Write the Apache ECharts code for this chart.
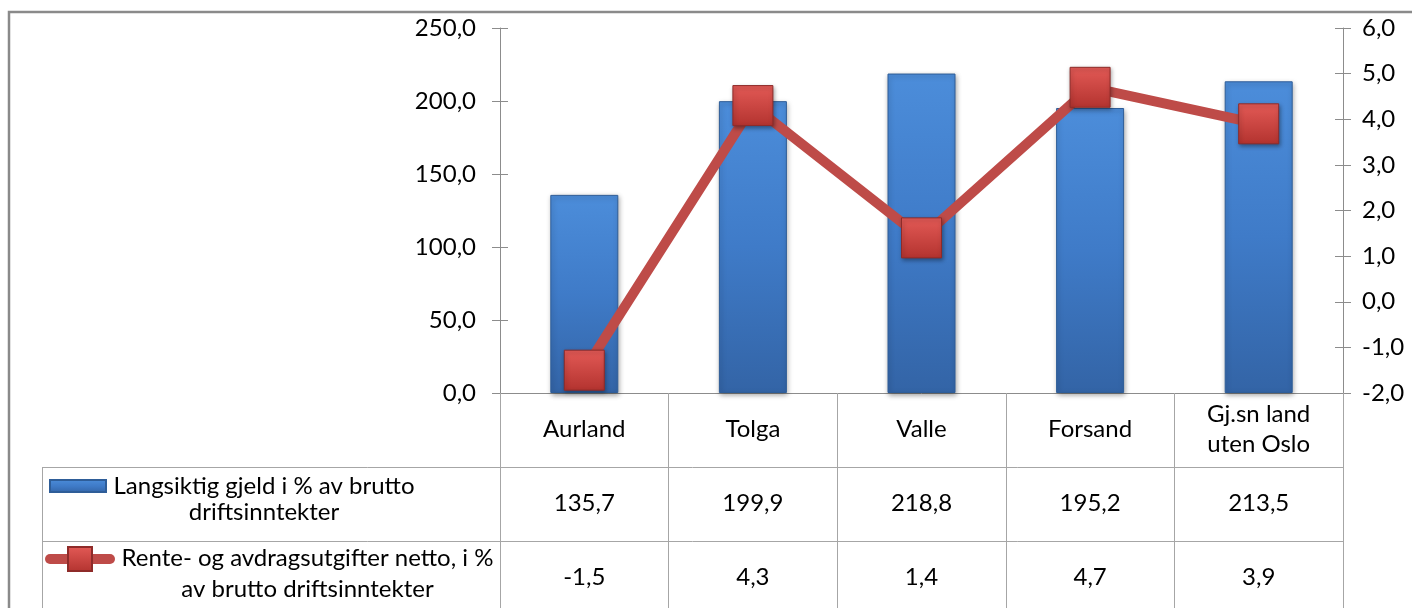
<!DOCTYPE html>
<html><head><meta charset="utf-8">
<script src="https://cdn.jsdelivr.net/npm/echarts@6/dist/echarts.min.js"></script>
<style>html,body{margin:0;padding:0;background:#fff}#c{width:1412px;height:608px}</style>
</head><body><div id="c"></div>
<script>
const categories = ['Aurland', 'Tolga', 'Valle', 'Forsand', 'Gj.sn land\nuten Oslo'];
const debtValues = [135.7, 199.9, 218.8, 195.2, 213.5];
const interestValues = [-1.5, 4.3, 1.4, 4.7, 3.9];
const debtName = 'Langsiktig gjeld i % av brutto driftsinntekter';
const interestName = 'Rente- og avdragsutgifter netto, i % av brutto driftsinntekter';
const debtLegendLines = ['Langsiktig gjeld i % av brutto', 'driftsinntekter'];
const interestLegendLines = ['Rente- og avdragsutgifter netto, i %', 'av brutto driftsinntekter'];
const leftAxis = { min: 0, max: 250, interval: 50 };
const rightAxis = { min: -2, max: 6, interval: 1 };

const FONT = 'Lato';
const FS = 24;
const fmt = v => Number(v).toFixed(1).replace('.', ',');
const grey = '#8c8c8c';
const tableGrey = '#a6a6a6';

const chart = echarts.init(document.getElementById('c'), null, { renderer: 'canvas' });

const labelBase = { fontFamily: FONT, fontSize: FS, color: '#000' };

const option = {
  backgroundColor: '#fff',
  animation: false,
  textStyle: { fontFamily: FONT },
  grid: { left: 500, right: 69, top: 28, bottom: 215, containLabel: false },
  xAxis: [
    {
      type: 'category', data: categories, position: 'bottom', offset: 0,
      axisLine: { onZero: false, lineStyle: { color: grey, width: 1 } },
      axisTick: { show: true, interval: 0, length: 230, lineStyle: { color: tableGrey } },
      axisLabel: Object.assign({ interval: 0, margin: 36, verticalAlign: 'middle', lineHeight: 30 }, labelBase)
    },
    {
      type: 'category', data: debtValues.map(fmt), position: 'bottom', offset: 0,
      axisLine: { show: false, onZero: false }, axisTick: { show: false },
      axisLabel: Object.assign({ interval: 0, margin: 110, verticalAlign: 'middle' }, labelBase)
    },
    {
      type: 'category', data: interestValues.map(fmt), position: 'bottom', offset: 0,
      axisLine: { show: false, onZero: false }, axisTick: { show: false },
      axisLabel: Object.assign({ interval: 0, margin: 184, verticalAlign: 'middle' }, labelBase)
    }
  ],
  yAxis: [
    {
      type: 'value', position: 'left', min: leftAxis.min, max: leftAxis.max, interval: leftAxis.interval,
      axisLine: { show: true, lineStyle: { color: grey } },
      axisTick: { show: true, length: 8, lineStyle: { color: grey } },
      splitLine: { show: false },
      axisLabel: Object.assign({ margin: 24, formatter: fmt }, labelBase)
    },
    {
      type: 'value', position: 'right', min: rightAxis.min, max: rightAxis.max, interval: rightAxis.interval,
      axisLine: { show: true, lineStyle: { color: grey } },
      axisTick: { show: true, length: 8, lineStyle: { color: grey } },
      splitLine: { show: false },
      axisLabel: Object.assign({ margin: 19, formatter: fmt }, labelBase)
    },
    {
      type: 'value', position: 'left', min: leftAxis.min, max: leftAxis.max, interval: leftAxis.interval,
      axisLine: { show: false }, axisLabel: { show: false }, splitLine: { show: false },
      axisTick: { show: true, inside: true, length: 8, lineStyle: { color: grey } }
    },
    {
      type: 'value', position: 'right', min: rightAxis.min, max: rightAxis.max, interval: rightAxis.interval,
      axisLine: { show: false }, axisLabel: { show: false }, splitLine: { show: false },
      axisTick: { show: true, inside: true, length: 8, lineStyle: { color: grey } }
    }
  ],
  legend: [
    {
      data: [{ name: debtName, icon: 'rect' }], left: 49, top: 474, padding: 0,
      itemWidth: 56, itemHeight: 12, itemGap: 0, selectedMode: false,
      formatter: () => `{a|${debtLegendLines[0]}}\n{a|${debtLegendLines[1]}}`,
      textStyle: {
        fontFamily: FONT, fontSize: FS, color: '#000', padding: [26, 0, 0, 0],
        rich: { a: { fontFamily: FONT, fontSize: FS, color: '#000', lineHeight: 26, width: 306, align: 'center' } }
      }
    },
    {
      data: [interestName], left: 45, top: 546, padding: 0,
      itemWidth: 60, itemHeight: 30, itemGap: 0, selectedMode: false,
      lineStyle: { width: 10, color: '#be4b48', cap: 'round' },
      formatter: () => `{a|${interestLegendLines[0]}}\n{a|${interestLegendLines[1]}}`,
      textStyle: {
        fontFamily: FONT, fontSize: FS, color: '#000', padding: [30, 0, 0, 0],
        rich: { a: { fontFamily: FONT, fontSize: FS, color: '#000', lineHeight: 31, width: 385, align: 'center' } }
      }
    }
  ],
  series: [
    {
      name: debtName, type: 'bar', xAxisIndex: 0, yAxisIndex: 0, data: debtValues, barWidth: 68,
      itemStyle: {
        color: new echarts.graphic.LinearGradient(0, 0, 0, 1, [
          { offset: 0, color: '#4c8dda' }, { offset: 0.5, color: '#3f7bc8' }, { offset: 1, color: '#3364a6' }
        ]),
        borderColor: '#2e5d98', borderWidth: 1,
        shadowBlur: 5, shadowColor: 'rgba(0,0,0,0.35)', shadowOffsetX: 1, shadowOffsetY: 2
      },
      z: 2
    },
    {
      name: interestName, type: 'line', xAxisIndex: 0, yAxisIndex: 1, data: interestValues,
      symbol: 'rect', symbolSize: 40,
      lineStyle: { width: 10, color: '#be4b48', cap: 'round' },
      itemStyle: {
        color: new echarts.graphic.LinearGradient(0, 0, 0, 1, [
          { offset: 0, color: '#e35a56' }, { offset: 1, color: '#b3332f' }
        ]),
        borderColor: '#8e2b29', borderWidth: 1,
        shadowBlur: 4, shadowColor: 'rgba(0,0,0,0.35)', shadowOffsetX: 1, shadowOffsetY: 2
      },
      z: 5
    }
  ],
  graphic: [
    { type: 'rect', shape: { x: 9, y: 12, width: 1450, height: 700 }, style: { fill: null, stroke: '#8a8a8a', lineWidth: 2.5 }, silent: true },
    { type: 'line', shape: { x1: 42, y1: 467.5, x2: 1343, y2: 467.5 }, style: { stroke: tableGrey, lineWidth: 1 }, silent: true },
    { type: 'line', shape: { x1: 42, y1: 541.5, x2: 1343, y2: 541.5 }, style: { stroke: tableGrey, lineWidth: 1 }, silent: true },
    { type: 'line', shape: { x1: 42.5, y1: 467, x2: 42.5, y2: 640 }, style: { stroke: tableGrey, lineWidth: 1 }, silent: true }
  ]
};
chart.setOption(option);
</script>
</body></html>
